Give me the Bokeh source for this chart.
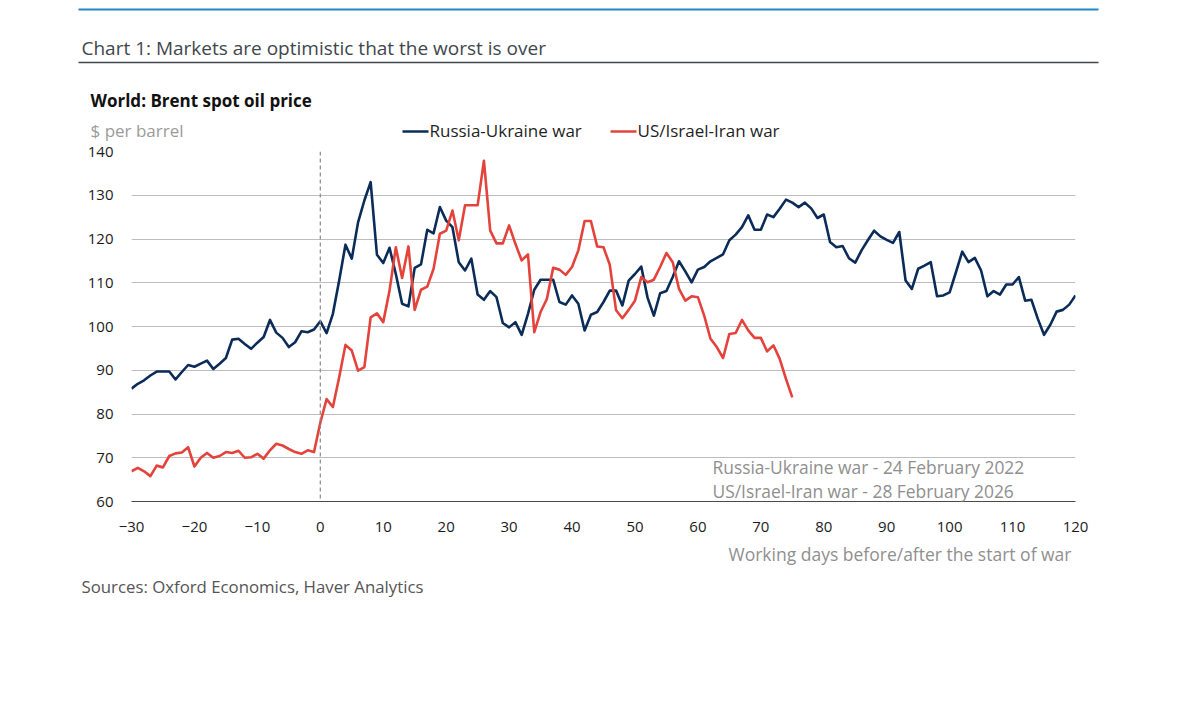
import numpy as np
from bokeh.plotting import figure
from bokeh.layouts import column
from bokeh.models import Range1d, Span, Label, BoxAnnotation, FixedTicker
from bokeh.embed import file_html
from bokeh.resources import INLINE

# Brent spot price ($/barrel) by working day relative to the start of each war
russia_ukraine_days = list(range(-30, 121))
russia_ukraine_price = [
    85.8, 86.9, 87.7, 88.8, 89.7, 89.7, 89.7, 87.9, 89.6, 91.2,
    90.8, 91.5, 92.2, 90.3, 91.5, 92.8, 97.0, 97.2, 96.0, 94.9,
    96.3, 97.6, 101.5, 98.6, 97.4, 95.3, 96.4, 98.9, 98.7, 99.3,
    101.2, 98.5, 102.9, 110.5, 118.7, 115.5, 123.8, 128.8, 133.0, 116.4,
    114.5, 118.0, 112.0, 105.2, 104.6, 113.4, 114.2, 122.1, 121.3, 127.3,
    124.2, 122.7, 114.7, 112.8, 115.5, 107.3, 106.1, 108.1, 106.7, 100.8,
    99.8, 101.0, 98.1, 102.9, 108.4, 110.7, 110.7, 110.7, 105.6, 105.0,
    107.1, 105.2, 99.1, 102.7, 103.3, 105.6, 108.2, 108.2, 104.8, 110.5,
    112.0, 113.7, 106.6, 102.5, 107.6, 108.1, 111.3, 114.9, 112.6, 110.1,
    113.0, 113.6, 114.9, 115.7, 116.5, 119.7, 121.0, 122.7, 125.4, 122.1,
    122.1, 125.6, 125.0, 126.9, 129.0, 128.3, 127.3, 128.3, 127.0, 124.8,
    125.6, 119.3, 118.1, 118.4, 115.6, 114.6, 117.4, 119.7, 121.9, 120.6,
    119.8, 119.1, 121.6, 110.5, 108.6, 113.2, 113.9, 114.7, 106.9, 107.1,
    107.8, 112.4, 117.1, 114.7, 115.7, 112.8, 106.9, 108.1, 107.3, 109.6,
    109.6, 111.3, 105.9, 106.1, 101.8, 98.1, 100.4, 103.4, 103.8, 105.0,
    107.1,
]

iran_days = list(range(-30, 76))
iran_price = [
    66.9, 67.7, 66.9, 65.8, 68.2, 67.8, 70.4, 71.0, 71.2, 72.4,
    68.0, 70.0, 71.1, 70.0, 70.4, 71.3, 71.1, 71.6, 70.0, 70.1,
    70.9, 69.8, 71.7, 73.2, 72.8, 72.0, 71.3, 70.9, 71.7, 71.3,
    78.0, 83.4, 81.6, 88.4, 95.8, 94.5, 89.9, 90.7, 102.1, 103.0,
    101.0, 108.2, 118.1, 111.1, 118.3, 103.8, 108.4, 109.1, 113.2, 121.2,
    121.9, 126.5, 119.7, 127.7, 127.7, 127.7, 137.9, 121.9, 119.0, 119.0,
    123.1, 118.9, 115.1, 116.5, 98.7, 103.3, 106.3, 113.4, 113.0, 111.8,
    113.6, 117.4, 124.1, 124.1, 118.3, 118.1, 114.1, 103.7, 101.9, 103.8,
    105.9, 111.3, 110.1, 110.7, 113.6, 116.8, 114.7, 108.6, 105.9, 106.9,
    106.7, 102.5, 97.2, 95.3, 92.8, 98.3, 98.5, 101.5, 99.1, 97.4,
    97.4, 94.3, 95.7, 92.6, 88.0, 83.8,
]

x_ticks = list(range(-30, 121, 10))
y_ticks = list(range(60, 141, 10))

series_names = ["Russia-Ukraine war", "US/Israel-Iran war"]
war_dates = ["24 February 2022", "28 February 2026"]

NAVY = "#0b2b59"
RED = "#e4433b"
GREY_TEXT = "#8f8f8f"
FONT = "Open Sans"

W = 1180
HEAD_H, MAIN_H, FOOT_H = 141, 399, 172
FL, FR = 131, 1075                 # frame left / right (px)
FT, FB = 151, 501                  # frame top / bottom (page px)


def panel(top, height):
    """A plain canvas whose coordinates are page pixels (y grows downward)."""
    f = figure(width=W, height=height, x_range=Range1d(0, W),
               y_range=Range1d(top + height, top),
               x_axis_type=None, y_axis_type=None,
               output_backend="svg", toolbar_location=None, min_border=0)
    f.frame_align = False
    f.outline_line_color = None
    f.grid.grid_line_color = None
    f.background_fill_color = "white"
    f.border_fill_color = "white"
    return f


def rule(f, x_left, x_right, y, thick, color):
    f.add_layout(BoxAnnotation(left=x_left, right=x_right,
                               top=y - thick / 2, bottom=y + thick / 2,
                               fill_color=color, fill_alpha=1.0,
                               line_color=None))


def text(f, x, y, s, size, color, align="left", style="normal"):
    f.add_layout(Label(x=x, y=y, text=s, text_font=FONT,
                       text_font_size=size, text_color=color,
                       text_align=align, text_baseline="middle",
                       text_font_style=style))


# ---- header: titles, unit and legend
head = panel(0, HEAD_H)
rule(head, 78, 1098, 9, 2, "#2386c6")
text(head, 81, 47, "Chart 1: Markets are optimistic that the worst is over", "19px", "#40474c")
rule(head, 78, 1098, 62, 1.4, "#40474c")
text(head, 90, 100, "World: Brent spot oil price", "17px", "#111111", style="bold")
text(head, 90, 129.5, "$ per barrel", "17px", "#9b9b9b")
rule(head, 402, 428, 131, 2.6, NAVY)
text(head, 429, 129.5, series_names[0], "17px", "#1f1f1f")
rule(head, 610, 636, 131, 2.6, RED)
text(head, 637, 129.5, series_names[1], "17px", "#1f1f1f")

# ---- main chart
p = figure(
    width=W, height=MAIN_H,
    x_range=Range1d(x_ticks[0], x_ticks[-1]), y_range=Range1d(y_ticks[0], y_ticks[-1]),
    output_backend="svg", toolbar_location=None,
    min_border_left=FL, min_border_right=W - FR,
    min_border_top=FT - HEAD_H, min_border_bottom=HEAD_H + MAIN_H - FB,
)
p.frame_align = False
p.outline_line_color = None
p.background_fill_color = "white"
p.border_fill_color = "white"

p.xaxis.ticker = FixedTicker(ticks=x_ticks)
p.yaxis.ticker = FixedTicker(ticks=y_ticks)
for ax in (p.xaxis[0], p.yaxis[0]):
    ax.major_tick_line_color = None
    ax.minor_tick_line_color = None
    ax.major_label_text_font = FONT
    ax.major_label_text_font_size = "15px"
    ax.major_label_text_color = "#1b1b1b"
p.yaxis.axis_line_color = None
p.yaxis.major_label_standoff = 12
p.xaxis.axis_line_color = "#4a4a4a"
p.xaxis.axis_line_width = 1.2
p.xaxis.major_label_standoff = 14

p.xgrid.grid_line_color = None
p.ygrid.grid_line_color = "#bdbdbd"
p.ygrid.grid_line_width = 1.2

# start of war marker
p.add_layout(Span(location=0, dimension="height", line_color="#8a8a8a",
                  line_dash="4 3", line_width=1.2))

p.line(russia_ukraine_days, russia_ukraine_price, line_color=NAVY, line_width=2.6,
       line_join="round")
p.line(iran_days, iran_price, line_color=RED, line_width=2.6, line_join="round")

# war start dates, lower right inside the plot
for i, (name, date) in enumerate(zip(series_names, war_dates)):
    p.add_layout(Label(x=712 - FL, y=FB - (466 + 24 * i), x_units="screen", y_units="screen",
                       text=f"{name} - {date}", text_font=FONT, text_font_size="17.4px",
                       text_color=GREY_TEXT, text_baseline="middle"))

# ---- footer: axis title and sources
foot = panel(HEAD_H + MAIN_H, FOOT_H)
text(foot, 1071, 553, "Working days before/after the start of war", "17.5px", GREY_TEXT, align="right")
text(foot, 81, 586, "Sources: Oxford Economics, Haver Analytics", "16.8px", "#555555")

layout = column(head, p, foot, spacing=0)
open("out.html", "w").write(file_html(layout, INLINE))
